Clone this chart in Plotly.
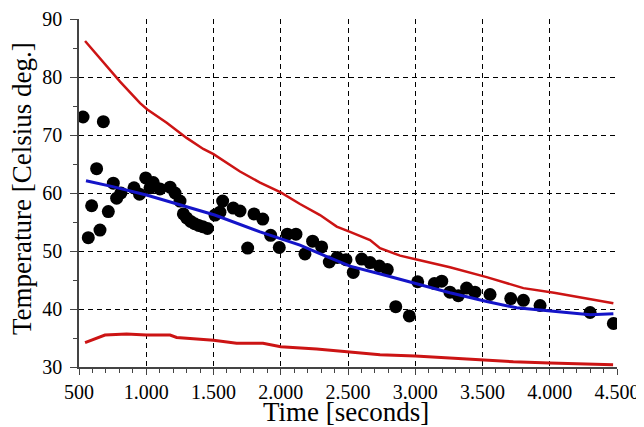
import plotly.graph_objects as go

# measured points
pts_x = [530, 569, 594, 631, 656, 681, 718, 755, 780, 812, 909, 950, 996, 1028, 1052,
         1102, 1177, 1214, 1251, 1276, 1300, 1330, 1360, 1390, 1420, 1455, 1511, 1548, 1568,
         1647, 1697, 1754, 1801, 1866, 1925, 1989, 2049, 2113, 2180, 2237, 2304,
         2361, 2420, 2485, 2539, 2602, 2664, 2733, 2792, 2855, 2956, 3018, 3142,
         3197, 3258, 3320, 3382, 3444, 3556, 3710, 3804, 3928, 4300, 4473]
pts_y = [73.1, 52.3, 57.8, 64.2, 53.6, 72.3, 56.8, 61.7, 59.1, 60.0, 60.9, 59.8, 62.6, 60.9, 61.8,
         60.7, 61.0, 60.0, 58.6, 56.4, 55.7, 55.1, 54.7, 54.4, 54.2, 53.9, 56.2, 56.7, 58.6,
         57.4, 56.9, 50.5, 56.4, 55.5, 52.7, 50.6, 52.9, 52.9, 49.5, 51.7, 50.7,
         48.1, 48.9, 48.5, 46.3, 48.6, 48.0, 47.4, 46.8, 40.4, 38.8, 44.7, 44.4,
         44.8, 42.9, 42.3, 43.6, 42.9, 42.5, 41.8, 41.5, 40.6, 39.4, 37.5]

# fitted curve (blue)
fit_x = [552, 750, 1008, 1250, 1509, 1846, 2143, 2366, 2515, 2762, 3023, 3258, 3531, 3754, 4027, 4300, 4473]
fit_y = [62.1, 61.1, 59.6, 58.0, 56.2, 53.3, 51.0, 48.8, 47.4, 45.9, 44.2, 42.8, 41.3, 40.2, 39.6, 39.0, 39.2]

# upper bound (red)
up_x = [545, 805, 954, 1008, 1152, 1300, 1424, 1500, 1697, 1846, 2000, 2143, 2292, 2416, 2515,
        2664, 2738, 2887, 3018, 3258, 3531, 3804, 4032, 4300, 4473]
up_y = [86.2, 79.2, 75.5, 74.4, 72.1, 69.5, 67.6, 66.7, 63.7, 61.8, 60.1, 58.1, 56.2, 54.2, 53.3,
        51.9, 50.5, 49.2, 48.5, 47.2, 45.5, 43.6, 42.8, 41.7, 41.0]

# lower bound (red)
lo_x = [545, 693, 854, 1000, 1177, 1226, 1500, 1672, 1868, 2000, 2267, 2441, 2738, 3000, 3159,
        3481, 3729, 4000, 4173, 4322, 4471]
lo_y = [34.2, 35.5, 35.7, 35.5, 35.5, 35.1, 34.6, 34.1, 34.1, 33.5, 33.1, 32.7, 32.1, 31.9, 31.7,
        31.2, 30.9, 30.7, 30.6, 30.4, 30.4]

x_ticks = [500, 1000, 1500, 2000, 2500, 3000, 3500, 4000, 4500]
x_labels = ["500", "1.000", "1.500", "2.000", "2.500", "3.000", "3.500", "4.000", "4.500"]
y_ticks = [30, 40, 50, 60, 70, 80, 90]
x_title = "Time [seconds]"
y_title = "Temperature [Celsius deg.]"

red = "#cc1414"
blue = "#1414c8"

fig = go.Figure()
fig.add_trace(go.Scatter(x=up_x, y=up_y, mode="lines", line=dict(color=red, width=2.5)))
fig.add_trace(go.Scatter(x=lo_x, y=lo_y, mode="lines", line=dict(color=red, width=3)))
fig.add_trace(go.Scatter(x=pts_x, y=pts_y, mode="markers",
                         marker=dict(color="black", size=13, line=dict(width=0))))
fig.add_trace(go.Scatter(x=fit_x, y=fit_y, mode="lines", line=dict(color=blue, width=3)))

font = "Liberation Serif"
# the page body adds an 8px offset, so the figure is sized to the visible area
fig.update_layout(
    width=636, height=419,
    margin=dict(l=71, r=27, t=11, b=60, autoexpand=False),
    paper_bgcolor="white", plot_bgcolor="white",
    showlegend=False,
    font=dict(family=font, color="black"),
    annotations=[
        dict(text=x_title, xref="paper", yref="paper", x=0.5, y=0,
             xanchor="center", yanchor="middle", xshift=-2, yshift=-45, borderpad=0,
             showarrow=False, font=dict(size=27, family=font, color="black")),
        dict(text=y_title, xref="paper", yref="paper", x=0, y=0.5, textangle=-90,
             xanchor="center", yanchor="middle", xshift=-57, yshift=4, borderpad=0,
             showarrow=False, font=dict(size=27, family=font, color="black")),
    ],
)
fig.update_xaxes(
    range=[500, 4500], tickvals=x_ticks, ticktext=x_labels,
    tickfont=dict(size=20, family=font), automargin=False, ticklabeloverflow="allow",
    showgrid=True, gridcolor="black", gridwidth=1, griddash="5px,4px",
    showline=True, linecolor="#444", linewidth=1.5,
    ticks="outside", ticklen=6, tickcolor="#444",
    minor=dict(dtick=100, ticks="outside", ticklen=4, tickcolor="#444", showgrid=False),
    zeroline=False,
)
fig.update_yaxes(
    range=[30, 90], tickvals=y_ticks,
    tickfont=dict(size=20, family=font), automargin=False, ticklabeloverflow="allow",
    showgrid=True, gridcolor="black", gridwidth=1, griddash="5px,4px",
    showline=True, linecolor="#444", linewidth=1.5,
    ticks="outside", ticklen=7, tickcolor="#444",
    minor=dict(dtick=5, ticks="outside", ticklen=4, tickcolor="#444", showgrid=False),
    zeroline=False, ticklabelstandoff=4,
)

fig.write_html("out.html")
